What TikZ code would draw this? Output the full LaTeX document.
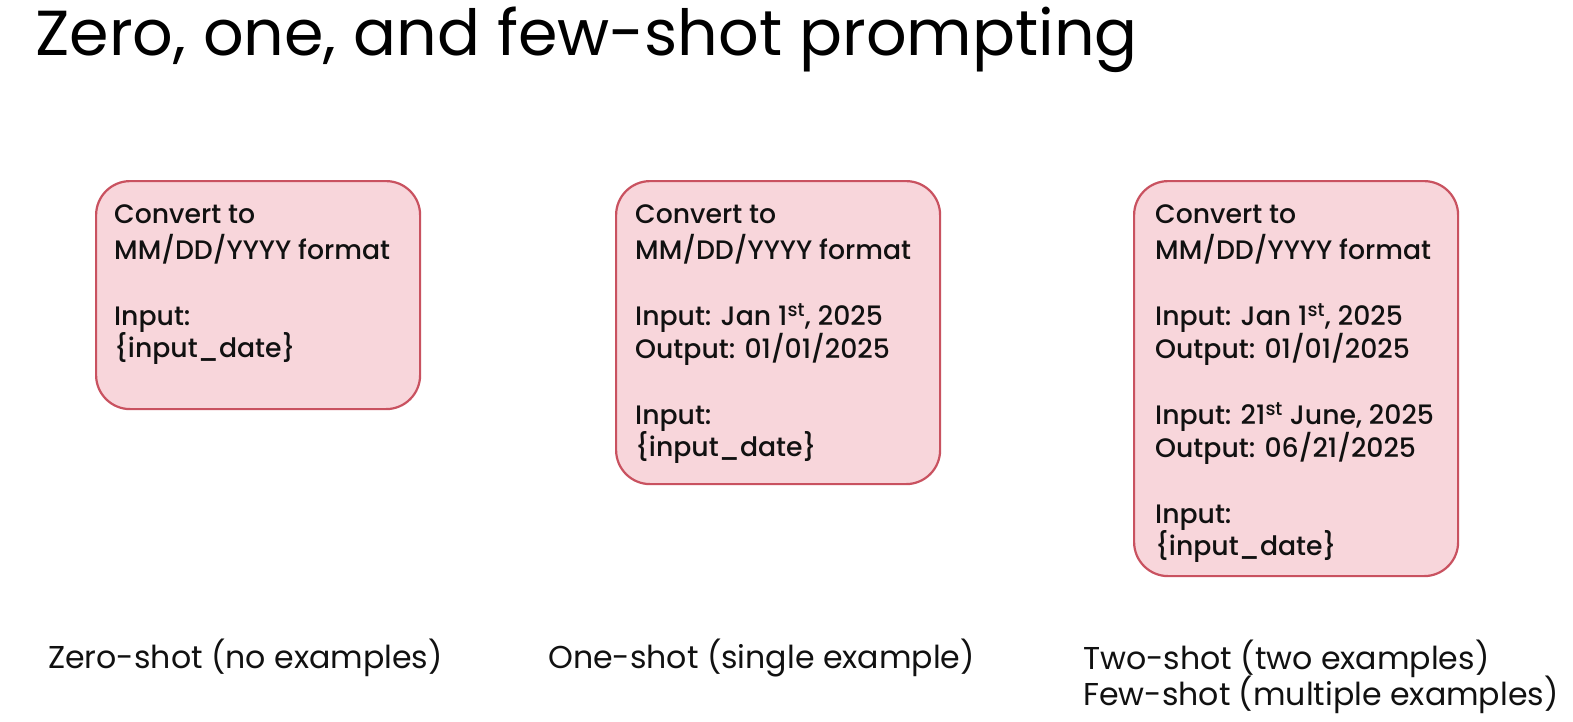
\documentclass[tikz,border=0pt]{standalone}
\usepackage{fontspec}
\setmainfont{Poppins}
\newfontfamily\boxfont{Poppins Medium}
\definecolor{boxfill}{RGB}{248,214,219}
\definecolor{boxline}{RGB}{201,82,96}
\definecolor{inktext}{RGB}{17,17,17}
\begin{document}
\begin{tikzpicture}[x=1bp,y=-1bp,
  promptbox/.style={draw=boxline, line width=2.2bp, fill=boxfill, rounded corners=34bp,
    minimum width=324bp, anchor=north west, inner sep=0pt},
  prompttext/.style={anchor=north west, inner sep=0pt, align=left, text=inktext,
    font=\boxfont\fontsize{26.7bp}{32bp}\selectfont},
  captiontext/.style={anchor=base west, inner sep=0pt, text=inktext,
    font=\fontsize{31.6bp}{37bp}\selectfont},
]
\useasboundingbox (0,0) rectangle (1573,722);
\fill[white] (0,0) rectangle (1573,722);

\node[anchor=base west, inner sep=0pt, text=black, font=\fontsize{63.6bp}{70bp}\selectfont]
  (title) at (35,56) {Zero, one, and few-shot prompting};

% boxes
\node[promptbox, minimum height=228bp] (zerobox) at (95,180) {};
\node[promptbox, minimum height=303bp] (onebox) at (615,180) {};
\node[promptbox, minimum height=395bp] (twobox) at (1133,180) {};

% box texts
\node[prompttext] (zerotext) at (114,200.6)
  {\strut Convert to\\MM/DD/YYYY format\\[34bp]Input:\\\{input\_date\}};
\node[prompttext] (onetext) at (635,200.6)
  {\strut Convert to\\MM/DD/YYYY format\\[34bp]Input: Jan 1\textsuperscript{st}, 2025\\Output: 01/01/2025\\[34bp]Input:\\\{input\_date\}};
\node[prompttext] (twotext) at (1155,200.6)
  {\strut Convert to\\MM/DD/YYYY format\\[34bp]Input: Jan 1\textsuperscript{st}, 2025\\Output: 01/01/2025\\[34bp]Input: 21\textsuperscript{st} June, 2025\\Output: 06/21/2025\\[34bp]Input:\\\{input\_date\}};

% captions
\node[captiontext] (zerocap) at (48,668) {Zero-shot (no examples)};
\node[captiontext] (onecap) at (548,668) {One-shot (single example)};
\node[captiontext] (twocap) at (1083,669) {Two-shot (two examples)};
\node[captiontext] (fewcap) at (1083,705) {Few-shot (multiple examples)};
\end{tikzpicture}
\end{document}
